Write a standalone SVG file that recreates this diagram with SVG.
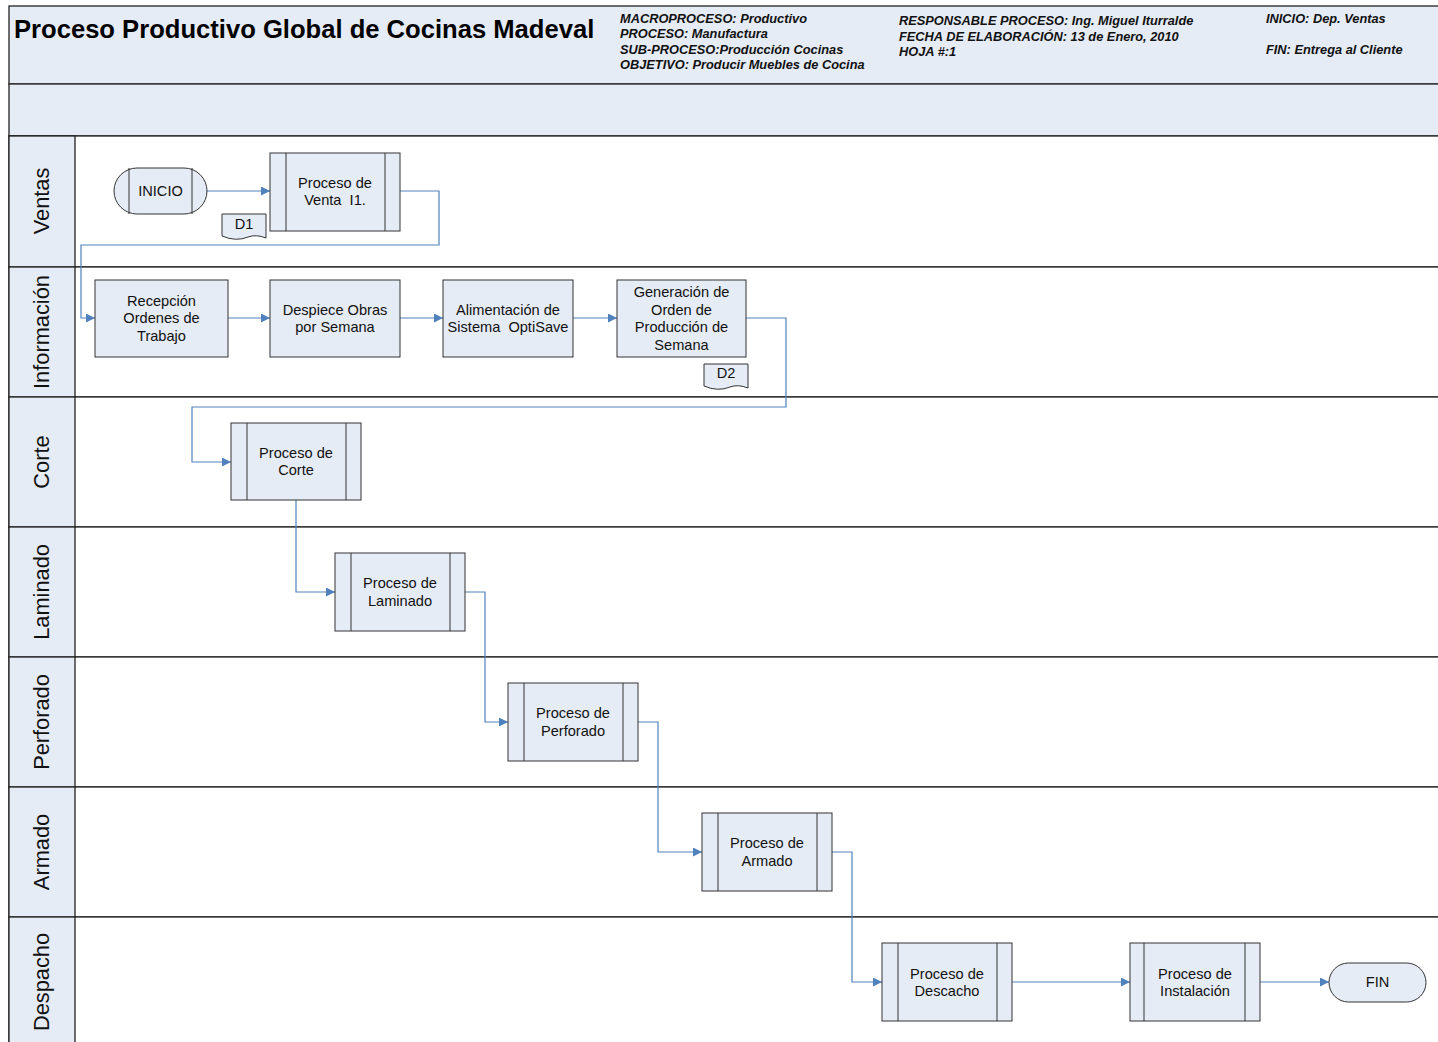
<svg xmlns="http://www.w3.org/2000/svg" width="1438" height="1042" viewBox="0 0 1438 1042">
  <defs>
    <style>
      .band { fill: #E6ECF6; stroke: #222; stroke-width: 1.3; }
      .lane { fill: #FFFFFF; stroke: #222; stroke-width: 1.3; }
      .laneLbl { fill: #E6ECF6; stroke: #222; stroke-width: 1.3; }
      .box { fill: #E6ECF6; stroke: #333; stroke-width: 1; }
      .inner { stroke: #333; stroke-width: 1; fill: none; }
      .txt { font-family: "Liberation Sans", Arial, sans-serif; font-size: 14.6px; fill: #111; text-anchor: middle; white-space: pre; }
      .lbl { font-family: "Liberation Sans", Arial, sans-serif; font-size: 21.8px; fill: #111; text-anchor: middle; }
      .meta { font-family: "Liberation Sans", Arial, sans-serif; font-size: 12.8px; font-weight: bold; font-style: italic; fill: #111; }
      .title { font-family: "Liberation Sans", Arial, sans-serif; font-size: 25.6px; font-weight: bold; fill: #000; }
      .flow { fill: none; stroke: #4F81BD; stroke-width: 1.2; marker-end: url(#arr); }
    </style>
    <marker id="arr" viewBox="0 0 10 10" refX="10" refY="5" markerWidth="9" markerHeight="9" markerUnits="userSpaceOnUse" orient="auto">
      <path d="M0,0 L10,5 L0,10 z" fill="#4F81BD"/>
    </marker>
  </defs>

  <rect width="1438" height="1042" fill="#FFFFFF"/>

  <!-- header -->
  <g id="header">
    <rect class="band" x="9" y="6" width="1435" height="78"/>
    <rect class="band" x="9" y="84" width="1435" height="52"/>
    <text class="title" x="14" y="38">Proceso Productivo Global de Cocinas Madeval</text>
    <text class="meta" x="620" y="23">MACROPROCESO: Productivo</text>
    <text class="meta" x="620" y="38">PROCESO: Manufactura</text>
    <text class="meta" x="620" y="54">SUB-PROCESO:Producción Cocinas</text>
    <text class="meta" x="620" y="69">OBJETIVO: Producir Muebles de Cocina</text>
    <text class="meta" x="899" y="25">RESPONSABLE PROCESO: Ing. Miguel Iturralde</text>
    <text class="meta" x="899" y="41">FECHA DE ELABORACIÓN: 13 de Enero, 2010</text>
    <text class="meta" x="899" y="56">HOJA #:1</text>
    <text class="meta" x="1266" y="23">INICIO: Dep. Ventas</text>
    <text class="meta" x="1266" y="54">FIN: Entrega al Cliente</text>
  </g>

  <!-- swimlanes -->
  <g id="lanes">
    <rect class="lane" x="9" y="136" width="1435" height="131"/>
    <rect class="lane" x="9" y="267" width="1435" height="130"/>
    <rect class="lane" x="9" y="397" width="1435" height="130"/>
    <rect class="lane" x="9" y="527" width="1435" height="130"/>
    <rect class="lane" x="9" y="657" width="1435" height="130"/>
    <rect class="lane" x="9" y="787" width="1435" height="130"/>
    <rect class="lane" x="9" y="917" width="1435" height="130"/>
    <rect class="laneLbl" x="9" y="136" width="66" height="131"/>
    <rect class="laneLbl" x="9" y="267" width="66" height="130"/>
    <rect class="laneLbl" x="9" y="397" width="66" height="130"/>
    <rect class="laneLbl" x="9" y="527" width="66" height="130"/>
    <rect class="laneLbl" x="9" y="657" width="66" height="130"/>
    <rect class="laneLbl" x="9" y="787" width="66" height="130"/>
    <rect class="laneLbl" x="9" y="917" width="66" height="130"/>
    <text class="lbl" transform="translate(49,201) rotate(-90)">Ventas</text>
    <text class="lbl" transform="translate(49,332) rotate(-90)">Información</text>
    <text class="lbl" transform="translate(49,462) rotate(-90)">Corte</text>
    <text class="lbl" transform="translate(49,592) rotate(-90)">Laminado</text>
    <text class="lbl" transform="translate(49,722) rotate(-90)">Perforado</text>
    <text class="lbl" transform="translate(49,852) rotate(-90)">Armado</text>
    <text class="lbl" transform="translate(49,982) rotate(-90)">Despacho</text>
  </g>

  <!-- connectors -->
  <g id="connectors">
    <path class="flow" d="M207,191 H270"/>
    <path class="flow" d="M400,191 H439 V245 H81 V318 H95"/>
    <path class="flow" d="M228,318 H270"/>
    <path class="flow" d="M400,318 H443"/>
    <path class="flow" d="M573,318 H617"/>
    <path class="flow" d="M746,318 H786 V407 H192 V462 H231"/>
    <path class="flow" d="M296,500 V592 H335"/>
    <path class="flow" d="M465,592 H485 V722 H508"/>
    <path class="flow" d="M638,722 H658 V852 H702"/>
    <path class="flow" d="M832,852 H852 V982 H882"/>
    <path class="flow" d="M1012,982 H1130"/>
    <path class="flow" d="M1260,982 H1329"/>
  </g>

  <!-- nodes -->
  <g id="inicio">
    <rect class="box" x="114" y="168" width="93" height="46" rx="23" ry="23"/>
    <line class="inner" x1="129" y1="168" x2="129" y2="214"/>
    <line class="inner" x1="192" y1="168" x2="192" y2="214"/>
    <text class="txt" x="160.5" y="196">INICIO</text>
  </g>
  <g id="venta">
    <rect class="box" x="270" y="153" width="130" height="78"/>
    <line class="inner" x1="286" y1="153" x2="286" y2="231"/>
    <line class="inner" x1="385" y1="153" x2="385" y2="231"/>
    <text class="txt" x="335" y="188">Proceso de</text>
    <text class="txt" x="335" y="205">Venta  I1.</text>
  </g>
  <g id="d1">
    <path class="box" d="M222,214 H266 V238 Q256,234 248,237 Q236,242 222,236 Z"/>
    <text class="txt" x="244" y="229">D1</text>
  </g>
  <g id="recepcion">
    <rect class="box" x="95" y="280" width="133" height="77"/>
    <text class="txt" x="161.5" y="306">Recepción</text>
    <text class="txt" x="161.5" y="323">Ordenes de</text>
    <text class="txt" x="161.5" y="341">Trabajo</text>
  </g>
  <g id="despiece">
    <rect class="box" x="270" y="280" width="130" height="77"/>
    <text class="txt" x="335" y="315">Despiece Obras</text>
    <text class="txt" x="335" y="332">por Semana</text>
  </g>
  <g id="alimentacion">
    <rect class="box" x="443" y="280" width="130" height="77"/>
    <text class="txt" x="508" y="315">Alimentación de</text>
    <text class="txt" x="508" y="332">Sistema  OptiSave</text>
  </g>
  <g id="generacion">
    <rect class="box" x="617" y="280" width="129" height="77"/>
    <text class="txt" x="681.5" y="297">Generación de</text>
    <text class="txt" x="681.5" y="315">Orden de</text>
    <text class="txt" x="681.5" y="332">Producción de</text>
    <text class="txt" x="681.5" y="350">Semana</text>
  </g>
  <g id="d2">
    <path class="box" d="M704,364 H748 V388 Q738,384 730,387 Q718,392 704,386 Z"/>
    <text class="txt" x="726" y="378">D2</text>
  </g>
  <g id="corte">
    <rect class="box" x="231" y="423" width="130" height="77"/>
    <line class="inner" x1="247" y1="423" x2="247" y2="500"/>
    <line class="inner" x1="346" y1="423" x2="346" y2="500"/>
    <text class="txt" x="296" y="458">Proceso de</text>
    <text class="txt" x="296" y="475">Corte</text>
  </g>
  <g id="laminado">
    <rect class="box" x="335" y="553" width="130" height="78"/>
    <line class="inner" x1="351" y1="553" x2="351" y2="631"/>
    <line class="inner" x1="450" y1="553" x2="450" y2="631"/>
    <text class="txt" x="400" y="588">Proceso de</text>
    <text class="txt" x="400" y="606">Laminado</text>
  </g>
  <g id="perforado">
    <rect class="box" x="508" y="683" width="130" height="78"/>
    <line class="inner" x1="524" y1="683" x2="524" y2="761"/>
    <line class="inner" x1="623" y1="683" x2="623" y2="761"/>
    <text class="txt" x="573" y="718">Proceso de</text>
    <text class="txt" x="573" y="736">Perforado</text>
  </g>
  <g id="armado">
    <rect class="box" x="702" y="813" width="130" height="78"/>
    <line class="inner" x1="718" y1="813" x2="718" y2="891"/>
    <line class="inner" x1="817" y1="813" x2="817" y2="891"/>
    <text class="txt" x="767" y="848">Proceso de</text>
    <text class="txt" x="767" y="866">Armado</text>
  </g>
  <g id="descacho">
    <rect class="box" x="882" y="943" width="130" height="78"/>
    <line class="inner" x1="898" y1="943" x2="898" y2="1021"/>
    <line class="inner" x1="997" y1="943" x2="997" y2="1021"/>
    <text class="txt" x="947" y="979">Proceso de</text>
    <text class="txt" x="947" y="996">Descacho</text>
  </g>
  <g id="instalacion">
    <rect class="box" x="1130" y="943" width="130" height="78"/>
    <line class="inner" x1="1144" y1="943" x2="1144" y2="1021"/>
    <line class="inner" x1="1245" y1="943" x2="1245" y2="1021"/>
    <text class="txt" x="1195" y="979">Proceso de</text>
    <text class="txt" x="1195" y="996">Instalación</text>
  </g>
  <g id="fin">
    <rect class="box" x="1329" y="963" width="97" height="39" rx="19.5" ry="19.5"/>
    <text class="txt" x="1377.5" y="987">FIN</text>
  </g>
</svg>
